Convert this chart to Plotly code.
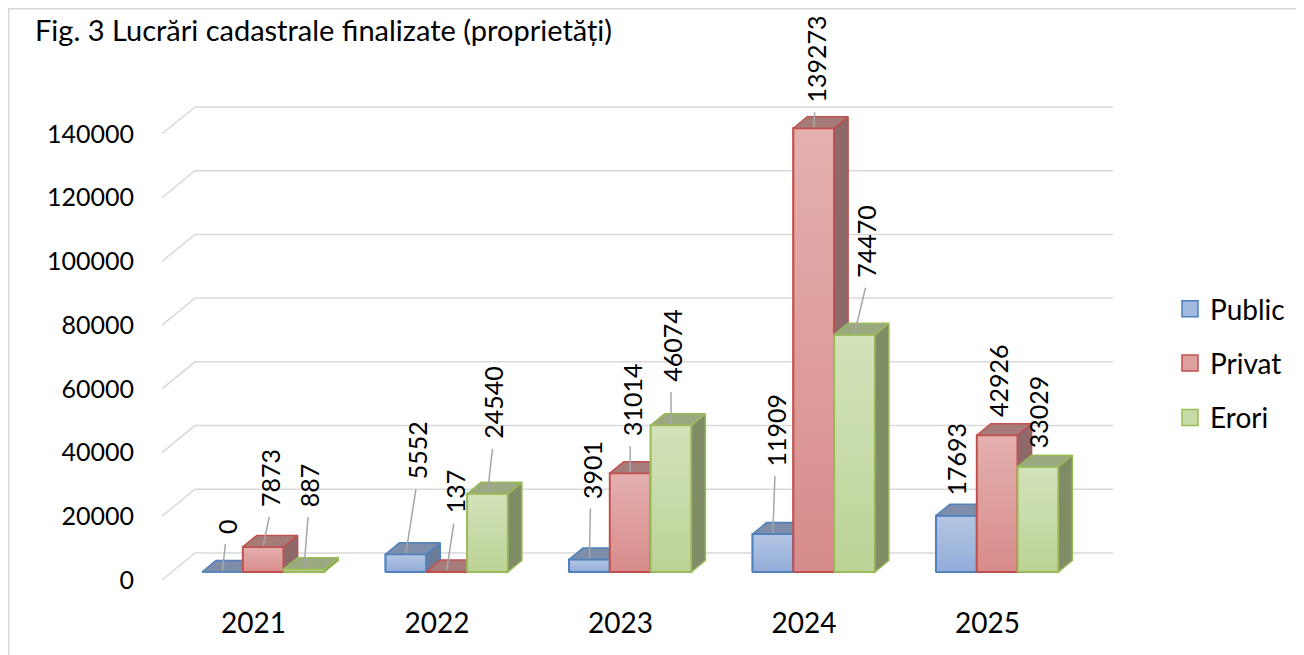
import plotly.graph_objects as go

# ---------------- data ----------------
years = ["2021", "2022", "2023", "2024", "2025"]
series_names = ["Public", "Privat", "Erori"]
public = [0, 5552, 3901, 11909, 17693]
privat = [7873, 137, 31014, 139273, 42926]
erori = [887, 24540, 46074, 74470, 33029]
y_ticks = [0, 20000, 40000, 60000, 80000, 100000, 120000, 140000]
title_text = "Fig. 3 Lucrări cadastrale finalizate (proprietăți)"

# ---------------- label placement (pixels, relative to bar top) ----------------
label_gap = [
    [37, 74, 60, 67, 19],   # Public
    [39, 57, 36, 25, 17],   # Privat
    [61, 54, 42, 56, 17],   # Erori
]
label_dx = [
    [4, 11, 2, 3, 0],
    [7, 8, 1, 2, 1],
    [5, 6, 1, 12, 0],
]

# ---------------- styles ----------------
FONT = "Lato"
FS_TICK = 25
FS_CAT = 28
FS_LABEL = 25
FS_TITLE = 29
FS_LEGEND = 28
styles = [
    dict(border="#4F81BD", top="#B4C6E4", bottom="#93ACD8", cap="#7D8DAA", side="#6B7C99", mid="#A3BAE0"),
    dict(border="#C0504D", top="#E4B0AF", bottom="#D78C8B", cap="#A67C7B", side="#8D6A69", mid="#DDA09F"),
    dict(border="#9BBB59", top="#D3E2BA", bottom="#BCD397", cap="#9AA97F", side="#7F8C66", mid="#C8DAA8"),
]

# ---------------- geometry (page-pixel model of the 3-D projection) ----------------
OFF = 8                      # default page body margin
PAGE_W, PAGE_H = 1304, 655
W, H = PAGE_W - OFF, PAGE_H - OFF
L_PX, R_PX, T_PX, B_PX = 162, 1113, 60, 600
K = 0.003186          # pixels per value unit
BASE_PX = 572         # pixel row of value 0 in the bar plane
X0 = 263.2            # pixel of first category centre (bar plane)
UX = 183.5            # pixels per category
BW = 40.8 / UX        # bar width in category units
DDX, DDY = 14 / UX, 11.5 / K          # bar depth
FRONT_DX, FRONT_DY = 9.8 / UX, 8 / K  # bar plane -> front edge of floor
BACK_DX, BACK_DY = 23.2 / UX, 19 / K  # bar plane -> back wall
PW, PH = R_PX - L_PX, B_PX - T_PX


def xd(px):
    return (px - X0) / UX


def yd(py):
    return (BASE_PX - py) / K


def pxp(px):
    return (px - L_PX) / PW


def pyp(py):
    return (B_PX - py) / PH


fig = go.Figure()

all_series = [public, privat, erori]
offsets = [-BW, 0.0, BW]

# base bars (front faces) through the bar trace
for s, (name, vals) in enumerate(zip(series_names, all_series)):
    st = styles[s]
    fig.add_trace(go.Bar(
        x=[i + offsets[s] for i in range(len(years))], y=vals, width=BW,
        name=name, showlegend=False,
        marker=dict(color=st["mid"], line=dict(color=st["border"], width=1.5)),
        hoverinfo="skip",
    ))

# legend entries
for s, name in enumerate(series_names):
    st = styles[s]
    fig.add_trace(go.Scatter(
        x=[None], y=[None], mode="markers", name=name, legendgroup=name,
        marker=dict(symbol="square", size=16, color=st["mid"], line=dict(color=st["border"], width=1.5)),
    ))

# gridlines: side-wall diagonal + back wall
gx, gy = [], []
for t in y_ticks:
    gx += [xd(L_PX), xd(L_PX) + FRONT_DX + BACK_DX, xd(R_PX), None]
    gy += [t - FRONT_DY, t + BACK_DY, t + BACK_DY, None]
fig.add_trace(go.Scatter(x=gx, y=gy, mode="lines", line=dict(color="#D9D9D9", width=1.5),
                         showlegend=False, hoverinfo="skip"))

# 3-D bars: front (gradient), side, top -- drawn series by series
for s, vals in enumerate(all_series):
    st = styles[s]
    tx, ty, sx, sy = [], [], [], []
    for i, v in enumerate(vals):
        xl = i + offsets[s] - BW / 2
        xr = xl + BW
        if v > 0:
            fig.add_trace(go.Scatter(
                x=[xl, xr, xr, xl, xl], y=[0, 0, v, v, 0], mode="lines", fill="toself",
                fillgradient=dict(type="vertical", colorscale=[[0, st["bottom"]], [1, st["top"]]]),
                line=dict(color=st["border"], width=2), showlegend=False, hoverinfo="skip"))
        tx += [xl, xr, xr + DDX, xl + DDX, xl, None]
        ty += [v, v, v + DDY, v + DDY, v, None]
        sx += [xr, xr + DDX, xr + DDX, xr, xr, None]
        sy += [0, DDY, v + DDY, v, 0, None]
    fig.add_trace(go.Scatter(x=sx, y=sy, mode="lines", fill="toself", fillcolor=st["side"],
                             line=dict(color=st["border"], width=1.5), showlegend=False, hoverinfo="skip"))
    fig.add_trace(go.Scatter(x=tx, y=ty, mode="lines", fill="toself", fillcolor=st["cap"],
                             line=dict(color=st["border"], width=1.5), showlegend=False, hoverinfo="skip"))

# data labels with leader lines
lx, ly = [], []
annotations = []
for s, vals in enumerate(all_series):
    for i, v in enumerate(vals):
        xc = i + offsets[s]
        gap = label_gap[s][i]
        ax = xc + label_dx[s][i] / UX
        annotations.append(dict(
            x=ax, y=v + gap / K, xref="x", yref="y", text=f"{v}", textangle=-90,
            showarrow=False, xanchor="center", yanchor="bottom",
            font=dict(family=FONT, size=FS_LABEL, color="#000000"), borderpad=0))
        if gap > 20:
            lx += [xc, ax - 1 / UX, None]
            ly += [v + 1 / K, v + (gap - 9) / K, None]
fig.add_trace(go.Scatter(x=lx, y=ly, mode="lines", line=dict(color="#A6A6A6", width=1.5),
                         showlegend=False, hoverinfo="skip"))

# title
annotations.append(dict(
    x=pxp(33), y=pyp(29.5), xref="paper", yref="paper", text=title_text, showarrow=False,
    xanchor="left", yanchor="middle", font=dict(family=FONT, size=FS_TITLE, color="#000000")))

# outer frame
fig.add_shape(type="rect", xref="paper", yref="paper",
              x0=pxp(OFF + 0.75), x1=pxp(PAGE_W + 10), y0=pyp(PAGE_H + 10), y1=pyp(OFF + 0.75),
              line=dict(color="#D9D9D9", width=1.5), layer="below")

fig.update_layout(
    width=W, height=H,
    margin=dict(l=L_PX - OFF, r=PAGE_W - R_PX, t=T_PX - OFF, b=PAGE_H - B_PX, pad=0, autoexpand=False),
    paper_bgcolor="white", plot_bgcolor="rgba(0,0,0,0)",
    barmode="overlay",
    font=dict(family=FONT, size=FS_TICK, color="#000000"),
    xaxis=dict(range=[xd(L_PX), xd(R_PX)], showgrid=False, zeroline=False, showline=False,
               tickmode="array", tickvals=[i - FRONT_DX for i in range(len(years))], ticktext=years,
               ticks="", ticklabelstandoff=4, tickfont=dict(family=FONT, size=FS_CAT), automargin=False),
    yaxis=dict(range=[yd(B_PX), yd(T_PX)], showgrid=False, zeroline=False, showline=False,
               tickmode="array", tickvals=[t - FRONT_DY for t in y_ticks], ticktext=[str(t) for t in y_ticks],
               ticks="", ticklabelstandoff=27, tickfont=dict(family=FONT, size=FS_TICK), automargin=False),
    legend=dict(xref="container", yref="container", x=(1170 - OFF) / W, xanchor="left",
                y=1 - (284 - OFF) / H, yanchor="top", bgcolor="rgba(0,0,0,0)",
                font=dict(family=FONT, size=FS_LEGEND), tracegroupgap=15, traceorder="grouped",
                itemsizing="trace"),
    annotations=annotations,
    showlegend=True,
)

fig.write_html("out.html")
